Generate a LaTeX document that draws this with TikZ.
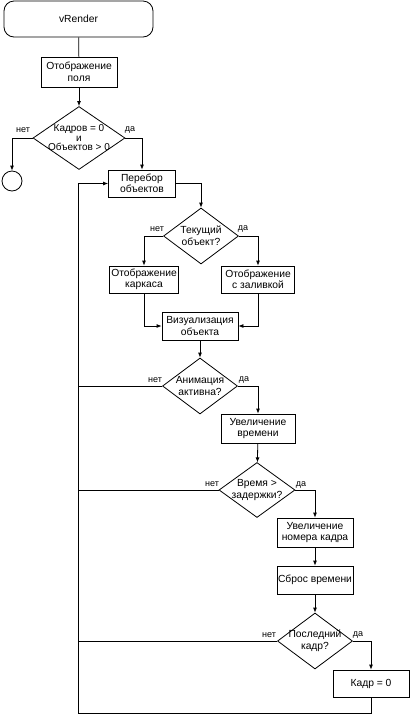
\documentclass[tikz,border=0pt]{standalone}
\usepackage{fontspec}
\setmainfont{Liberation Sans}
\usetikzlibrary{shapes.geometric,arrows.meta}

\begin{document}
\begin{tikzpicture}[x=1pt,y=-1pt,line width=0.8pt,
	box/.style={draw,rectangle,minimum width=74,minimum height=28,inner sep=1pt,align=center,font=\fontsize{10.3}{11.5}\selectfont},
	dia/.style={draw,diamond,minimum width=75,minimum height=56,inner sep=0pt},
	dtext/.style={align=center,inner sep=0pt,font=\fontsize{10.3}{12}\selectfont},
	lbl/.style={inner sep=0pt,font=\fontsize{9}{10}\selectfont},
	>={Latex[length=5pt,width=4pt]}]
				\useasboundingbox (0,0) rectangle (411,716);

				\draw (78.5,19) node[box,rounded corners=10,minimum width=149,minimum height=36] (render) {vRender};
				\draw (79,72) node[box,minimum width=76,minimum height=30] (field) {Отображение\\поля};
				\draw (79,138) node[dia,minimum width=92,minimum height=63,
					label={[dtext,font=\fontsize{10}{9.5}\selectfont]center:Кадров = 0\\и\\Объектов > 0}] (d1) {};
				\draw (12,181) node[circle,draw,minimum size=20,inner sep=0pt] (stop) {};
				\draw (142,183.5) node[box,minimum width=67,minimum height=27] (loop) {Перебор\\объектов};
				\draw (201,236) node[dia,label={[dtext]center:Текущий\\объект?}] (d2) {};
				\draw (144,279.5) node[box,minimum width=69,minimum height=27] (wire) {Отображение\\каркаса};
				\draw (258,279.5) node[box,minimum width=73,minimum height=27] (fill) {Отображение\\с заливкой};
				\draw (200,326) node[box,minimum width=76] (vis) {Визуализация\\объекта};
				\draw (200,386) node[dia,label={[dtext]center:Анимация\\активна?}] (d3) {};
				\draw (258,428.5) node[box,minimum height=29] (timeinc) {Увеличение\\времени};
				\draw (257,490) node[dia,minimum width=76,minimum height=55,label={[dtext]center:Время >\\задержки?}] (d4) {};
				\draw (315,532.5) node[box,minimum width=76,minimum height=29] (frameinc) {Увеличение\\номера кадра};
				\draw (315,580) node[box,minimum width=76] (reset) {Сброс времени};
				\draw (315,641) node[dia,label={[dtext]center:Последний\\кадр?}] (d5) {};
				\draw (371,683.5) node[box,minimum width=76,minimum height=27] (zero) {Кадр = 0};
				\coordinate (bl) at (78,713);

				% yes / no marks
				\draw (23,130) node[lbl] (no1) {нет};
				\draw (130,130) node[lbl] (yes1) {да};
				\draw (157,229) node[lbl] (no2) {нет};
				\draw (243,229) node[lbl] (yes2) {да};
				\draw (155,380) node[lbl] (no3) {нет};
				\draw (244,380) node[lbl] (yes3) {да};
				\draw (212,484) node[lbl] (no4) {нет};
				\draw (301,485) node[lbl] (yes4) {да};
				\draw (269,635) node[lbl] (no5) {нет};
				\draw (358,635) node[lbl] (yes5) {да};

				\draw (render) -- (field);
				\draw[->] (field) -- (d1);
				\draw[->] (d1.west) -| (stop);
				\draw[->] (d1.east) -| (loop);
				\draw[->] (loop.east) -| (d2);
				\draw[->] (d2.west) -| (wire);
				\draw[->] (d2.east) -| (fill);
				\draw[->] (wire) |- (vis);
				\draw[->] (fill) |- (vis);
				\draw[->] (vis) -- (d3);
				\draw (d3.west) -- (d3.west -| bl);
				\draw[->] (d3.east) -| (timeinc);
				\draw[->] (timeinc) -- (d4);
				\draw (d4.west) -- (d4.west -| bl);
				\draw[->] (d4.east) -| (frameinc);
				\draw[->] (frameinc) -- (reset);
				\draw[->] (reset) -- (d5);
				\draw (d5.west) -- (d5.west -| bl);
				\draw[->] (d5.east) -| (zero);
				\draw[->] (zero) |- (bl) |- (loop);
			\end{tikzpicture}
\end{document}
